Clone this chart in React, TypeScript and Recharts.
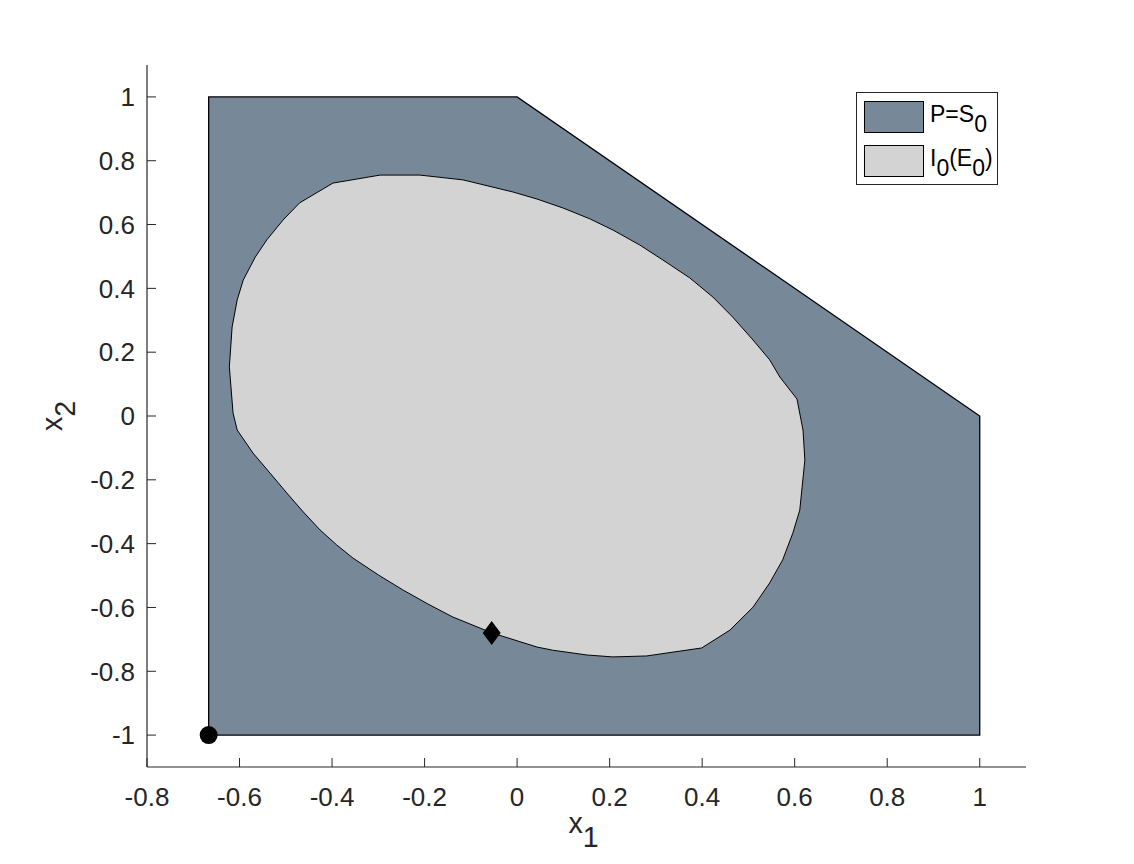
import { ScatterChart, Scatter, XAxis, YAxis, Legend, Label, Polygon } from 'recharts';

// region P = S0 (polytope corners)
const polyX = [-0.6667, 0, 1, 1, -0.6667];
const polyY = [1, 1, 0, -1, -1];

// inner region I0(E0), outline (clockwise)
const ellX = [
  -0.398, -0.296, -0.21, -0.117, -0.08, -0.009, 0.043, 0.099, 0.157, 0.207, 0.265, 0.315, 0.373, 0.423, 0.466, 0.51, 0.546, 0.568, 0.605,
  0.618, 0.622, 0.611, 0.596, 0.574, 0.546, 0.51, 0.46, 0.399,
  0.28, 0.207, 0.151, 0.077, 0.043, -0.054, -0.139, -0.193, -0.247, -0.3, -0.355, -0.39, -0.426, -0.462, -0.498, -0.534, -0.571, -0.605,
  -0.614, -0.622, -0.616, -0.605, -0.592, -0.566, -0.541, -0.506, -0.47,
];
const ellY = [
  0.73, 0.755, 0.755, 0.74, 0.727, 0.702, 0.68, 0.652, 0.618, 0.583, 0.536, 0.489, 0.433, 0.373, 0.31, 0.238, 0.176, 0.122, 0.053,
  -0.044, -0.138, -0.295, -0.367, -0.451, -0.523, -0.599, -0.671, -0.727,
  -0.752, -0.755, -0.749, -0.734, -0.724, -0.68, -0.63, -0.589, -0.545, -0.498, -0.445, -0.404, -0.357, -0.301, -0.241, -0.179, -0.116, -0.044,
  0.009, 0.154, 0.279, 0.364, 0.426, 0.498, 0.552, 0.614, 0.668,
];

const startPoint = [{ x: -0.6667, y: -1 }];
const diamondPoint = [{ x: -0.055, y: -0.68 }];

const xTicks = [-0.8, -0.6, -0.4, -0.2, 0, 0.2, 0.4, 0.6, 0.8, 1];
const yTicks = [-1, -0.8, -0.6, -0.4, -0.2, 0, 0.2, 0.4, 0.6, 0.8, 1];

const darkFill = '#778899';
const lightFill = '#d3d3d3';
const ink = '#262626';
const font = 'Arial, "Liberation Sans", Helvetica, sans-serif';

const polyData = polyX.map((x, i) => ({ x, y: polyY[i] }));
const ellData = ellX.map((x, i) => ({ x, y: ellY[i] }));

const legendRows = [
  { fill: darkFill, parts: [['P=S', false], ['0', true]] },
  { fill: lightFill, parts: [['I', false], ['0', true], ['(E', false], ['0', true], [')', false]] },
];

const noDot = () => <g />;

const areaLine = (fill: string, width: number) => (p: any) => (
  <Polygon points={p.points} fill={fill} stroke="#000" strokeWidth={width} />
);

const dot = (p: any) => <circle cx={p.cx} cy={p.cy} r={9} fill="#000" />;

const diamond = (p: any) => {
  const { cx, cy } = p;
  return <polygon points={`${cx},${cy - 12} ${cx + 9},${cy} ${cx},${cy + 12} ${cx - 9},${cy}`} fill="#000" />;
};

const XLabel = (props: any) => {
  const vb = props.viewBox || { x: 147, y: 767, width: 879, height: 60 };
  return (
    <text x={vb.x + vb.width / 2 - 3} y={vb.y + 66} textAnchor="middle" fill={ink} fontSize={28.6} fontFamily={font}>
      x<tspan dy={14}>1</tspan>
    </text>
  );
};

const YLabel = (props: any) => {
  const vb = props.viewBox || { x: 87, y: 65, width: 60, height: 702 };
  const cx = vb.x - 25;
  const cy = vb.y + vb.height / 2;
  return (
    <text x={cx} y={cy} transform={`rotate(-90, ${cx}, ${cy})`} textAnchor="middle" fill={ink} fontSize={28.6} fontFamily={font}>
      x<tspan dy={13}>2</tspan>
    </text>
  );
};

const LegendBox = () => (
  <div style={{ border: `1px solid ${ink}`, background: '#fff', width: 142, height: 93, boxSizing: 'border-box', paddingTop: 2, fontFamily: font, fontSize: 23, color: '#000' }}>
    {legendRows.map((row, i) => (
      <div key={i} style={{ display: 'flex', alignItems: 'center', height: 44, marginLeft: 7 }}>
        <div style={{ width: 60, height: 32, background: row.fill, border: '1px solid #000', boxSizing: 'border-box', flexShrink: 0 }} />
        <div style={{ marginLeft: 6, whiteSpace: 'nowrap', lineHeight: 1, marginTop: -6 }}>
          {row.parts.map(([t, sub], j) => (
            <span key={j} style={sub ? { position: 'relative', top: 10 } : undefined}>{t}</span>
          ))}
        </div>
      </div>
    ))}
  </div>
);

export default function App() {
  return (
    <div style={{ position: 'absolute', left: 0, top: 0, width: 1134, height: 864, background: '#fff' }}>
      <ScatterChart width={1134} height={864} margin={{ top: 65, right: 108, bottom: 37, left: 87 }}>
        <XAxis
          type="number"
          dataKey="x"
          domain={[-0.8, 1.1]}
          ticks={xTicks}
          interval={0}
          height={60}
          tickSize={-9}
          tickMargin={30}
          tickFormatter={(v) => String(v)}
          axisLine={{ stroke: ink, strokeWidth: 1.2 }}
          tickLine={{ stroke: ink }}
          tick={{ fill: ink, fontSize: 26, fontFamily: font }}
          label={<Label content={XLabel} />}
        />
        <YAxis
          type="number"
          dataKey="y"
          domain={[-1.1, 1.1]}
          ticks={yTicks}
          interval={0}
          width={60}
          tickSize={-9}
          tickMargin={21}
          tickFormatter={(v) => String(v)}
          axisLine={{ stroke: ink, strokeWidth: 1.2 }}
          tickLine={{ stroke: ink }}
          tick={{ fill: ink, fontSize: 26, fontFamily: font }}
          label={<Label content={YLabel} />}
        />
        <Legend
          layout="vertical"
          align="center"
          verticalAlign="middle"
          wrapperStyle={{ left: 856, top: 92, width: 144, height: 95 }}
          content={LegendBox}
        />
        <Scatter name="P=S0" data={polyData} fill={darkFill} line={areaLine(darkFill, 1.3)} shape={noDot} isAnimationActive={false} />
        <Scatter name="I0(E0)" data={ellData} fill={lightFill} line={areaLine(lightFill, 1)} shape={noDot} isAnimationActive={false} />
        <Scatter data={startPoint} fill="#000" shape={dot} legendType="none" isAnimationActive={false} />
        <Scatter data={diamondPoint} fill="#000" shape={diamond} legendType="none" isAnimationActive={false} />
      </ScatterChart>
    </div>
  );
}
